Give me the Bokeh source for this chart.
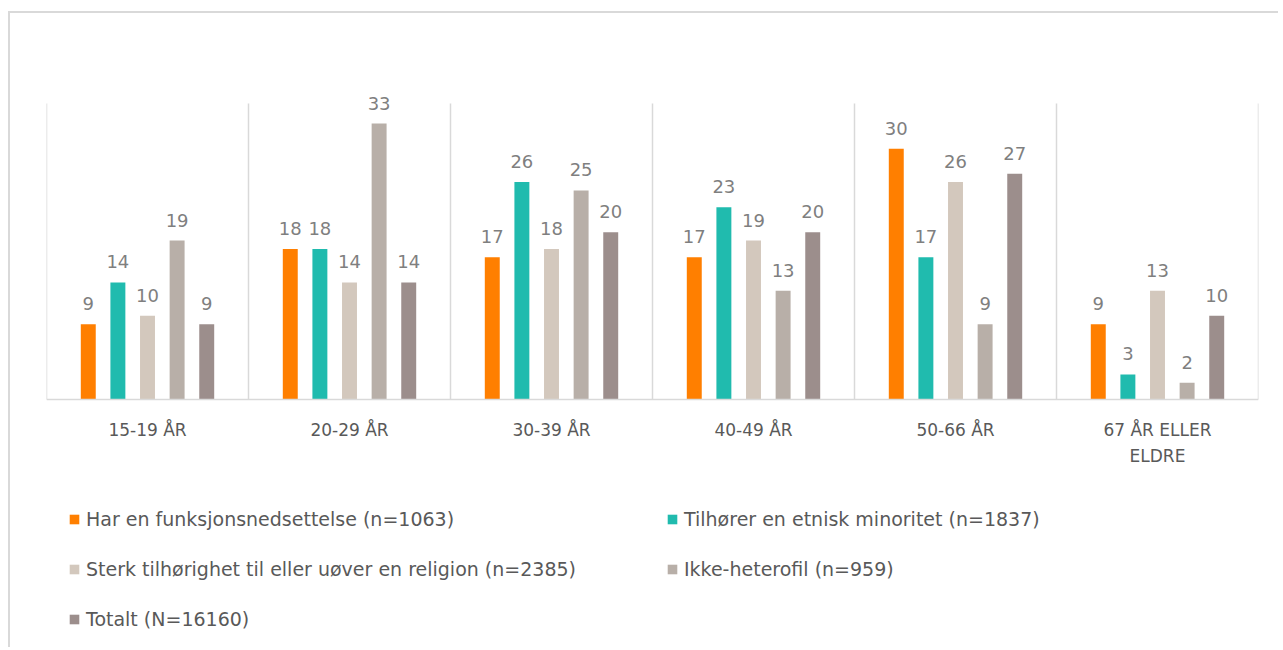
from bokeh.plotting import figure
from bokeh.models import ColumnDataSource, Legend, LegendItem, LabelSet, Span
from bokeh.core.properties import value
from bokeh.transform import dodge
from bokeh.embed import file_html
from bokeh.resources import INLINE

categories = ["15-19 ÅR", "20-29 ÅR", "30-39 ÅR", "40-49 ÅR", "50-66 ÅR", "67 ÅR ELLER ELDRE"]
category_labels = ["15-19 ÅR", "20-29 ÅR", "30-39 ÅR", "40-49 ÅR", "50-66 ÅR", "67 ÅR ELLER\nELDRE"]
series_names = [
    "Har en funksjonsnedsettelse (n=1063)",
    "Tilhører en etnisk minoritet (n=1837)",
    "Sterk tilhørighet til eller uøver en religion (n=2385)",
    "Ikke-heterofil (n=959)",
    "Totalt (N=16160)",
]
funksjon = [9, 18, 17, 17, 30, 9]
etnisk = [14, 18, 26, 23, 17, 3]
religion = [10, 14, 18, 19, 26, 13]
ikke_hetero = [19, 33, 25, 13, 9, 2]
totalt = [9, 14, 20, 20, 27, 10]
series_values = [funksjon, etnisk, religion, ikke_hetero, totalt]
colors = ["#FF7F00", "#20BBAE", "#D3C8BD", "#B8AFA8", "#9C8E8C"]

FONT = "DejaVu Sans"
GRID = "#D9D9D9"
n = len(categories)
centers = [i + 0.5 for i in range(n)]
Y_TOP = 35.4          # top of the plot area (separator lines)
Y_VIEW_TOP = 40.54    # extra room above so value labels are not clipped

# frame spans the whole lower part; negative y region holds category labels and legend
p = figure(width=1270, height=636, x_range=(0, n), y_range=(-29.9, Y_VIEW_TOP),
           output_backend="svg", toolbar_location=None,
           min_border_left=36, min_border_right=22, min_border_top=47, min_border_bottom=0)
p.styles = {"border-top": "2px solid #D9D9D9", "border-left": "2px solid #D9D9D9",
            "margin-top": "11px", "margin-left": "8px"}
p.outline_line_color = None
p.xaxis.visible = False
p.yaxis.visible = False
p.xgrid.grid_line_color = None
p.ygrid.grid_line_color = None

# group separators and baseline
bounds = list(range(n + 1))
p.segment(x0=bounds, x1=bounds, y0=[0] * len(bounds), y1=[Y_TOP] * len(bounds),
          line_color=GRID, line_width=1.5)
p.add_layout(Span(location=0, dimension="width", line_color=GRID, line_width=1.5))

# category labels
p.text(x=centers, y=[0] * n, text=category_labels, y_offset=21,
       text_align="center", text_baseline="top", text_font=value(FONT),
       text_font_size="17px", text_color="#595959", text_line_height=1.3)

step = 0.1466
width = 0.074
items = []
for k, (name, vals, col) in enumerate(zip(series_names, series_values, colors)):
    src = ColumnDataSource(dict(x=centers, y=vals, label=[str(v) for v in vals]))
    off = (k - 2) * step
    r = p.vbar(x=dodge("x", off), top="y", width=width, source=src,
               fill_color=col, line_color=None)
    p.add_layout(LabelSet(x=dodge("x", off), y="y", text="label", source=src,
                          text_align="center", text_baseline="bottom", y_offset=14,
                          text_font=value(FONT), text_font_size=value("18px"),
                          text_color="#7F7F7F"))
    items.append(LegendItem(label=name, renderers=[r]))

legend = Legend(items=items, ncols=2, orientation="horizontal",
                label_text_font=FONT, label_text_font_size="19px", label_text_color="#595959",
                glyph_width=12, glyph_height=12, label_standoff=6, spacing=28,
                label_height=20, label_width=552,
                border_line_color=None, background_fill_alpha=0, location=(22, 19),
                margin=0, padding=0)
p.add_layout(legend, "center")

open("out.html", "w").write(file_html(p, INLINE))
